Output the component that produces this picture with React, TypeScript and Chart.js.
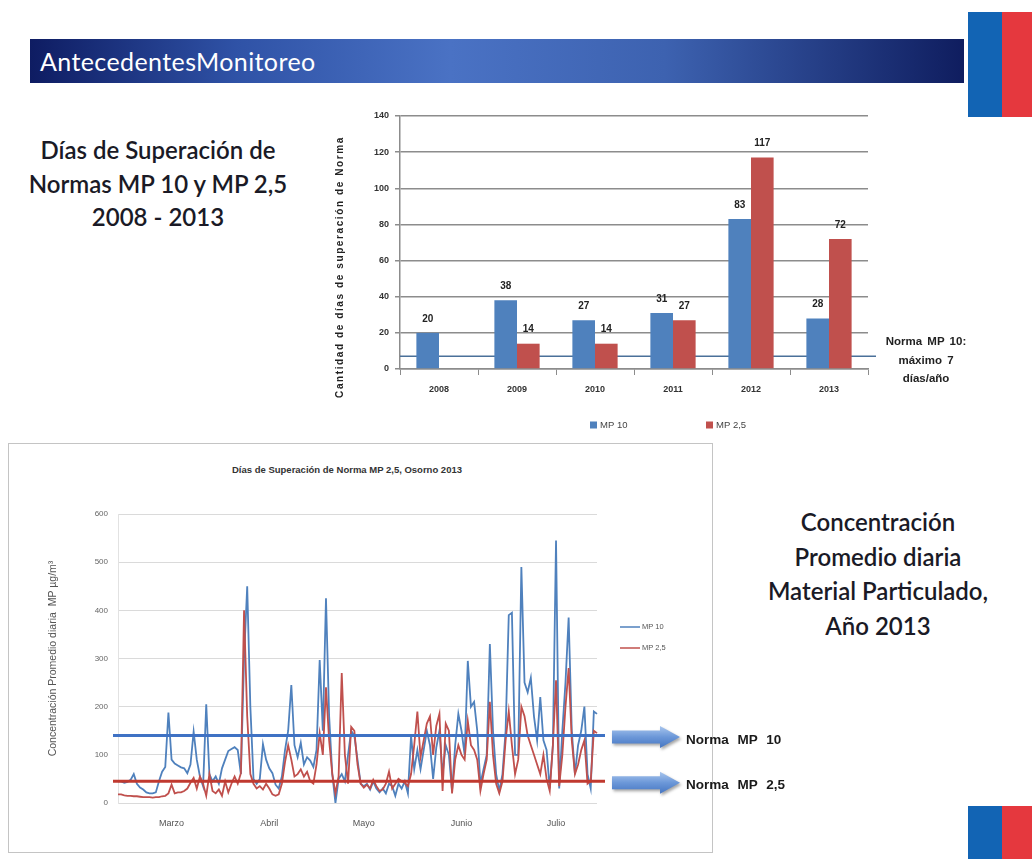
import React, { useEffect, useRef } from "react";
import { Chart, registerables } from "chart.js";

Chart.register(...registerables);

// ---------- Bar chart data (días de superación 2008-2013) ----------
const barYears = ["2008", "2009", "2010", "2011", "2012", "2013"];
const barMP10 = [20, 38, 27, 31, 83, 28];
const barMP25: (number | null)[] = [null, 14, 14, 27, 117, 72];
const barNormMP10 = 7;
const barSeriesNames = ["MP 10", "MP 2,5"];
const barYTitle = "Cantidad de días de superación de Norma";

// ---------- Line chart data (daily concentration 2013) ----------
const lineStart = { year: 2013, month: 1, day: 26 }; // 26 Feb 2013 (month 0-based)
const lineMP10 = [
  45, 45, 42, 44, 48, 60, 40, 32, 28, 22,
  20, 20, 22, 45, 65, 75, 188, 90, 82, 78,
  74, 72, 62, 80, 148, 90, 55, 35, 205, 60,
  45, 55, 40, 72, 90, 108, 112, 116, 110, 60,
  300, 450, 200, 50, 40, 50, 122, 90, 72, 62,
  38, 30, 55, 110, 150, 245, 120, 95, 125, 80,
  95, 88, 75, 110, 297, 150, 425, 180, 60, 0,
  50, 60, 45, 100, 150, 140, 90, 40, 35, 40,
  28, 45, 30, 22, 30, 20, 40, 35, 15, 40,
  30, 45, 20, 140, 70, 110, 70, 110, 150, 120,
  50, 115, 150, 60, 120, 100, 25, 120, 185, 150,
  100, 295, 200, 210, 150, 40, 70, 100, 330, 150,
  60, 25, 60, 150, 390, 395, 100, 100, 490, 250,
  230, 260, 180, 130, 220, 130, 110, 30, 120, 545,
  30, 150, 250, 385, 150, 60, 120, 150, 200, 60,
  30, 190, 185,
];
const lineMP25 = [
  18, 18, 16, 15, 15, 14, 14, 13, 12, 12,
  12, 11, 12, 12, 14, 15, 20, 38, 20, 22,
  22, 25, 30, 42, 52, 30, 55, 40, 15, 60,
  25, 20, 28, 15, 45, 22, 40, 55, 40, 62,
  400, 180, 60, 40, 30, 35, 28, 40, 30, 18,
  15, 18, 40, 85, 120, 90, 55, 60, 70, 55,
  65, 45, 40, 80, 145, 100, 240, 130, 60, 20,
  55, 270, 100, 40, 158, 150, 80, 40, 32, 38,
  30, 48, 35, 25, 28, 40, 65, 30, 40, 50,
  45, 42, 35, 60, 120, 190, 95, 130, 165, 180,
  100, 160, 185, 25, 165, 150, 20, 90, 120, 100,
  90, 170, 120, 110, 90, 25, 60, 90, 210, 100,
  40, 20, 45, 130, 190, 120, 60, 90, 200, 180,
  140, 120, 100, 80, 60, 100, 50, 25, 120, 255,
  35, 100, 200, 280, 130, 60, 80, 110, 130, 40,
  45, 150, 145,
];
const lineNormMP10 = 140;
const lineNormMP25 = 45;
const lineMonthNames = [
  "Enero", "Febrero", "Marzo", "Abril", "Mayo", "Junio",
  "Julio", "Agosto", "Septiembre", "Octubre", "Noviembre", "Diciembre",
];
const lineTickDay = 15;
const lineSeriesNames = ["MP 10", "MP 2,5"];

const lineDays: string[] = lineMP10.map((_, i) => {
  const d = new Date(lineStart.year, lineStart.month, lineStart.day + i);
  return `${d.getDate()}/${d.getMonth() + 1}/${d.getFullYear()}`;
});

const FONT = '"Liberation Sans", Arial, sans-serif';
const BLUE = "#4F81BD";
const RED = "#C0504D";

const barPlugin = {
  id: "barExtras",
  beforeDatasetsDraw(chart: any) {
    const { ctx, chartArea, scales } = chart;
    const y = scales.y.getPixelForValue(barNormMP10);
    ctx.save();
    ctx.strokeStyle = "#4a7099";
    ctx.lineWidth = 1.5;
    ctx.beginPath();
    ctx.moveTo(chartArea.left, y);
    ctx.lineTo(chartArea.right + 8, y);
    ctx.stroke();
    ctx.restore();
  },
  afterDatasetsDraw(chart: any) {
    const { ctx, chartArea } = chart;
    ctx.save();
    ctx.font = `bold 10px ${FONT}`;
    ctx.fillStyle = "#222";
    ctx.textAlign = "center";
    ctx.textBaseline = "bottom";
    chart.data.datasets.forEach((ds: any, di: number) => {
      const meta = chart.getDatasetMeta(di);
      meta.data.forEach((el: any, i: number) => {
        const v = ds.data[i];
        if (v == null) return;
        ctx.fillText(String(v), el.x, el.y - 9);
      });
    });
    // legend
    const ly = chartArea.bottom + 56;
    const cx = (chartArea.left + chartArea.right) / 2;
    const xs = [cx - 44, cx + 72];
    ctx.font = `9.5px ${FONT}`;
    ctx.textAlign = "left";
    ctx.textBaseline = "middle";
    chart.data.datasets.forEach((ds: any, di: number) => {
      ctx.fillStyle = ds.backgroundColor;
      ctx.fillRect(xs[di], ly - 3.5, 7, 7);
      ctx.fillStyle = "#444";
      ctx.fillText(ds.label, xs[di] + 10, ly);
    });
    // y axis title (letter-spaced, like the original)
    ctx.save();
    ctx.translate(20, chartArea.bottom - 102);
    ctx.rotate(-Math.PI / 2);
    (ctx as any).letterSpacing = "1.6px";
    ctx.font = `bold 10px ${FONT}`;
    ctx.fillStyle = "#222";
    ctx.textAlign = "center";
    ctx.textBaseline = "middle";
    ctx.fillText(barYTitle, 0, 0);
    ctx.restore();
    ctx.restore();
  },
};

function drawArrow(ctx: CanvasRenderingContext2D, x0: number, y: number) {
  ctx.save();
  ctx.shadowColor = "rgba(0,0,0,0.35)";
  ctx.shadowBlur = 3;
  ctx.shadowOffsetX = 1.5;
  ctx.shadowOffsetY = 2;
  const g = ctx.createLinearGradient(0, y - 11, 0, y + 11);
  g.addColorStop(0, "#a9c6ee");
  g.addColorStop(0.5, "#6b97d8");
  g.addColorStop(1, "#4676c2");
  ctx.fillStyle = g;
  ctx.beginPath();
  ctx.moveTo(x0, y - 6.5);
  ctx.lineTo(x0 + 48, y - 6.5);
  ctx.lineTo(x0 + 48, y - 11);
  ctx.lineTo(x0 + 68, y);
  ctx.lineTo(x0 + 48, y + 11);
  ctx.lineTo(x0 + 48, y + 6.5);
  ctx.lineTo(x0, y + 6.5);
  ctx.closePath();
  ctx.fill();
  ctx.restore();
}

const linePlugin = {
  id: "lineExtras",
  afterDatasetsDraw(chart: any) {
    const { ctx, chartArea, scales } = chart;
    const norms = [
      { v: lineNormMP10, c: "#3f72c4" },
      { v: lineNormMP25, c: "#c0392f" },
    ];
    ctx.save();
    norms.forEach((n) => {
      const y = scales.y.getPixelForValue(n.v);
      ctx.strokeStyle = n.c;
      ctx.lineWidth = 3;
      ctx.beginPath();
      ctx.moveTo(chartArea.left - 5, y);
      ctx.lineTo(chartArea.right + 8, y);
      ctx.stroke();
      drawArrow(ctx, chartArea.right + 15, y + 1.5);
    });
    // legend
    ctx.font = `7.5px ${FONT}`;
    ctx.textBaseline = "middle";
    ctx.textAlign = "left";
    const lx = chartArea.right + 23;
    chart.data.datasets.forEach((ds: any, di: number) => {
      const ly = 183 + di * 21;
      ctx.strokeStyle = ds.borderColor;
      ctx.lineWidth = 1.5;
      ctx.beginPath();
      ctx.moveTo(lx, ly);
      ctx.lineTo(lx + 20, ly);
      ctx.stroke();
      ctx.fillStyle = "#555";
      ctx.fillText(ds.label, lx + 22, ly);
    });
    ctx.restore();
  },
};

function monthOf(label: string): string {
  const parts = label.split("/");
  return lineMonthNames[Number(parts[1]) - 1];
}
function dayOf(label: string): number {
  return Number(label.split("/")[0]);
}

export default function App() {
  const barRef = useRef<HTMLCanvasElement>(null);
  const lineRef = useRef<HTMLCanvasElement>(null);

  useEffect(() => {
    const bar = new Chart(barRef.current as HTMLCanvasElement, {
      type: "bar",
      data: {
        labels: barYears,
        datasets: [
          { label: barSeriesNames[0], data: barMP10, backgroundColor: BLUE },
          { label: barSeriesNames[1], data: barMP25 as any, backgroundColor: RED },
        ],
      },
      options: {
        animation: false,
        responsive: false,
        layout: { padding: { top: 16, right: 132, bottom: 31, left: 0 } },
        datasets: { bar: { categoryPercentage: 0.58, barPercentage: 1 } },
        plugins: { legend: { display: false }, tooltip: { enabled: false } },
        scales: {
          x: {
            grid: { display: true, drawOnChartArea: false, offset: true, tickLength: 6, color: "#8c8c8c", lineWidth: 1 },
            border: { color: "#8c8c8c", width: 1.5 },
            ticks: { font: { family: FONT, size: 9, weight: "bold" }, color: "#333", padding: 9 },
            afterFit: (s: any) => { s.height = 40; },
          },
          y: {
            min: 0,
            max: 140,
            ticks: { stepSize: 20, font: { family: FONT, size: 9, weight: "bold" }, color: "#333", padding: 6 },
            grid: { color: "#8c8c8c", lineWidth: 1.5, tickLength: 5 },
            border: { color: "#8c8c8c", width: 1.5 },
            afterFit: (s: any) => { s.width = 80; },
          },
        },
      } as any,
      plugins: [barPlugin],
    });

    const line = new Chart(lineRef.current as HTMLCanvasElement, {
      type: "line",
      data: {
        labels: lineDays,
        datasets: [
          { label: lineSeriesNames[0], data: lineMP10, borderColor: BLUE, borderWidth: 1.8, pointRadius: 0, tension: 0, order: 1 },
          { label: lineSeriesNames[1], data: lineMP25, borderColor: RED, borderWidth: 1.8, pointRadius: 0, tension: 0, order: 0 },
        ],
      },
      options: {
        animation: false,
        responsive: false,
        layout: { padding: { top: 70, right: 114, bottom: 18, left: 0 } },
        plugins: { legend: { display: false }, tooltip: { enabled: false } },
        scales: {
          x: {
            grid: { display: false },
            border: { display: false },
            ticks: {
              autoSkip: false,
              maxRotation: 0,
              font: { family: FONT, size: 9 },
              color: "#555",
              padding: 7,
              callback: (v: any) => monthOf(lineDays[v]),
            },
            afterBuildTicks: (s: any) => {
              s.ticks = s.ticks.filter((t: any) => dayOf(lineDays[t.value]) === lineTickDay);
            },
            afterFit: (s: any) => { s.height = 30; },
          },
          y: {
            min: 0,
            max: 600,
            ticks: { stepSize: 100, font: { family: FONT, size: 8 }, color: "#666", padding: 10 },
            grid: { color: "#dadada", drawTicks: false },
            border: { display: true, color: "#e2e2e2" },
            title: {
              display: true,
              text: "Concentración Promedio diaria  MP µg/m³",
              font: { family: FONT, size: 10.5 },
              color: "#555",
              padding: { top: 38, bottom: 0 },
            },
            afterFit: (s: any) => { s.width = 109; },
          },
        },
      } as any,
      plugins: [linePlugin],
    });

    return () => {
      bar.destroy();
      line.destroy();
    };
  }, []);

  const abs = (l: number, t: number, w?: number, h?: number): React.CSSProperties => ({
    position: "absolute", left: l, top: t, width: w, height: h,
  });

  return (
    <div style={{ position: "absolute", left: 0, top: 0, width: 1032, height: 859, background: "#fff", overflow: "hidden", fontFamily: "Lato, sans-serif" }}>
      {/* header banner */}
      <div style={{ ...abs(30, 39, 934, 44), background: "linear-gradient(90deg, #0e1c62 0%, #2f52a6 22%, #4a72c4 45%, #3d62b0 68%, #0f1d5f 100%)" }} />
      <div style={{ ...abs(40, 45, 400, 32), color: "#fff", fontSize: 25, lineHeight: "32px", letterSpacing: 0.4, fontFamily: "Lato, sans-serif" }}>AntecedentesMonitoreo</div>
      {/* flags */}
      <div style={{ ...abs(968, 12, 34, 105), background: "#1264b4" }} />
      <div style={{ ...abs(1002, 12, 30, 105), background: "#e5383e" }} />
      <div style={{ ...abs(968, 806, 34, 53), background: "#1264b4" }} />
      <div style={{ ...abs(1002, 806, 30, 53), background: "#e5383e" }} />

      {/* left title */}
      <div style={{ ...abs(18, 133, 280), textAlign: "center", fontSize: 24, fontWeight: 600, lineHeight: "33.5px", color: "#1a1a26" }}>
        Días de Superación de<br />Normas MP 10 y MP 2,5<br />2008 - 2013
      </div>

      {/* bar chart */}
      <canvas ref={barRef} width={680} height={340} style={{ ...abs(320, 100, 680, 340) }} />
      <div style={{ ...abs(878, 332, 96), textAlign: "center", fontFamily: FONT, fontWeight: "bold", fontSize: 11.5, lineHeight: "18.5px", color: "#222", wordSpacing: 2 }}>
        Norma MP 10:<br />máximo 7<br />días/año
      </div>

      {/* line chart box */}
      <div style={{ ...abs(8, 443, 705, 410), border: "1px solid #c4c4c4", boxSizing: "border-box" }} />
      <div style={{ ...abs(9, 464, 702), textAlign: "center", fontFamily: FONT, fontWeight: "bold", fontSize: 9.5, color: "#333", paddingRight: 26, boxSizing: "border-box" }}>
        Días de Superación de Norma MP 2,5, Osorno 2013
      </div>
      <canvas ref={lineRef} width={702} height={407} style={{ ...abs(9, 444, 702, 407) }} />
      <div style={{ ...abs(686, 732), fontFamily: FONT, fontWeight: "bold", fontSize: 13.5, color: "#1a1a1a", wordSpacing: 5, whiteSpace: "nowrap" }}>Norma MP 10</div>
      <div style={{ ...abs(686, 777), fontFamily: FONT, fontWeight: "bold", fontSize: 13.5, color: "#1a1a1a", wordSpacing: 5, whiteSpace: "nowrap" }}>Norma MP 2,5</div>

      {/* right title */}
      <div style={{ ...abs(748, 505, 260), textAlign: "center", fontSize: 24, fontWeight: 600, lineHeight: "34.7px", color: "#1a1a26" }}>
        Concentración<br />Promedio diaria<br />Material Particulado,<br />Año 2013
      </div>
    </div>
  );
}
